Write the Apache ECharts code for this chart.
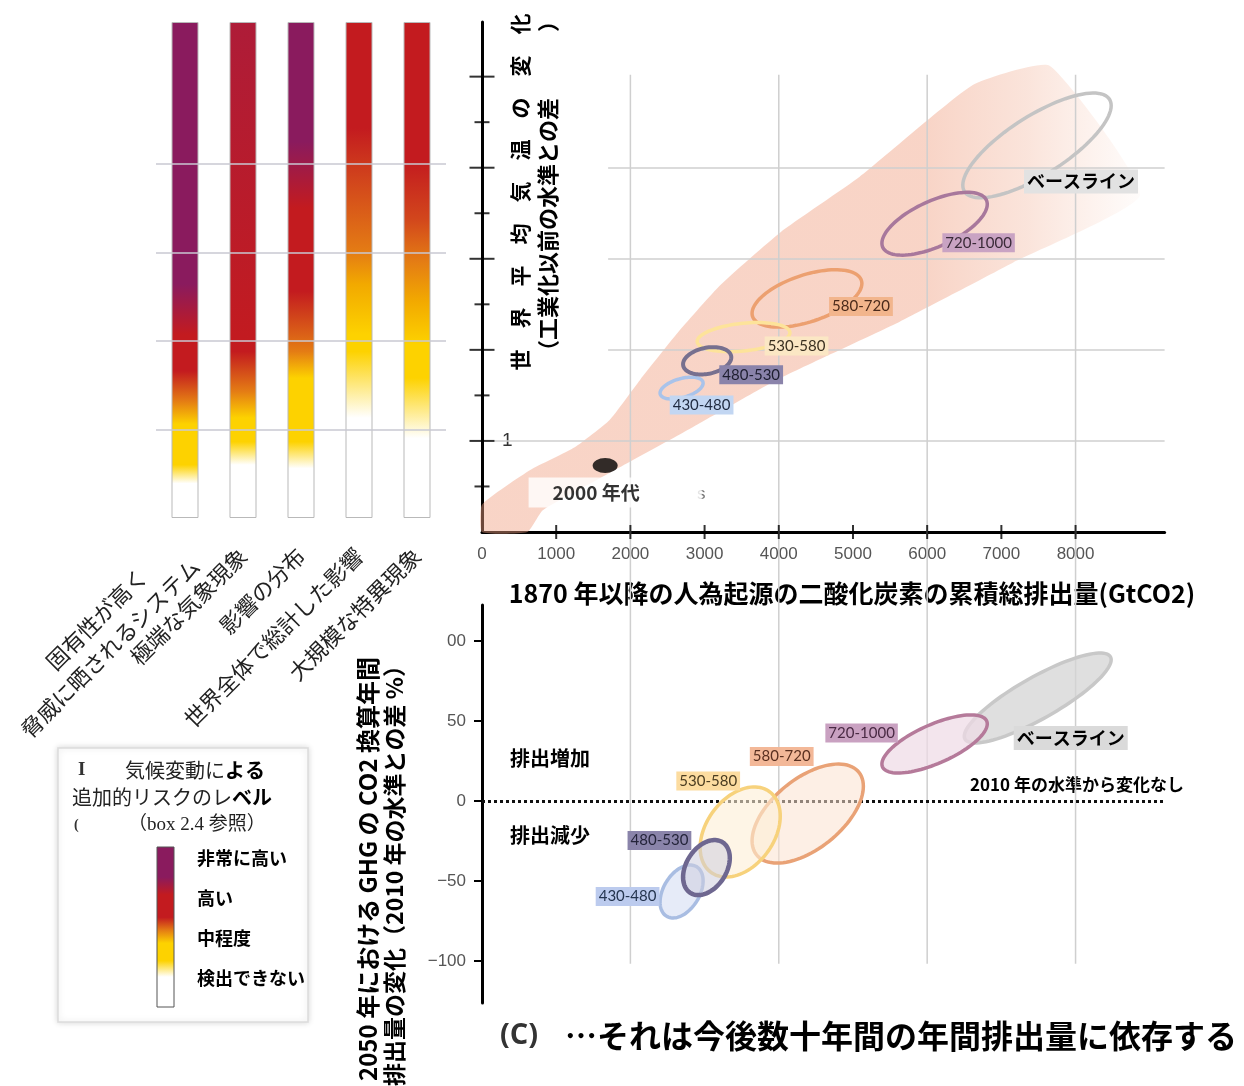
<!DOCTYPE html>
<html><head><meta charset="utf-8">
<script src="https://cdn.jsdelivr.net/npm/echarts@6/dist/echarts.min.js"></script>
<style>html,body{margin:0;padding:0;background:#fff}#c{width:1244px;height:1086px}</style>
</head><body><div id="c"></div>
<script>
// ---------------- DATA ----------------
const scenarios = ['ベースライン', '720-1000', '580-720', '530-580', '480-530', '430-480'];
// (b) cumulative CO2 since 1870 (GtCO2) vs warming (°C): ellipse extents + tilt (correlation)
const warmCumMin = [6480, 5390, 3640, 2900, 2710, 2400];
const warmCumMax = [8480, 6810, 5120, 4150, 3360, 2980];
const warmTMin   = [3.67, 3.04, 2.25, 1.98, 1.73, 1.46];
const warmTMax   = [4.82, 3.73, 2.88, 2.30, 2.03, 1.70];
const warmTilt   = [0.76, 0.62, 0.52, 0.30, 0.25, 0.45];
// (c) cumulative CO2 vs change in annual GHG emissions in 2050 (% vs 2010)
const emisCumMin = [6500, 5390, 3640, 2940, 2710, 2400];
const emisCumMax = [8480, 6810, 5140, 4020, 3340, 2980];
const emisChgMin = [36.3, 17.5, -38.8, -47.5, -58.8, -73.1];
const emisChgMax = [92.5, 53.8, 23.1, 8.8, -24.4, -40.0];
const emisTilt   = [0.85, 0.69, 0.55, 0.35, 0.35, 0.40];
// 2000s observed point
const obs2000s = [1660, 0.73];
// observed + projected warming range band (upper edge, then lower edge back)
const bandUpperCum = [0, 650, 1250, 1720, 2130, 2670, 3210, 4020, 5090, 6620, 7650];
const bandUpperT   = [0.30, 0.68, 0.93, 1.23, 1.67, 2.22, 2.71, 3.29, 3.90, 4.91, 5.12];
const bandLowerCum = [8870, 7160, 5630, 4020, 2840, 1590, 820, 610, 0];
const bandLowerT   = [3.70, 2.96, 2.31, 1.69, 1.15, 0.59, 0.24, 0.0, 0.0];
// tick values
const cumTickLabels = [0, 1000, 2000, 3000, 4000, 5000, 6000, 7000, 8000];
const cumTicks = [1000, 2000, 3000, 4000, 5000, 6000, 7000, 8000];
const tempMajorTicks = [1, 2, 3, 4, 5];
const tempMinorTicks = [0.5, 1.5, 2.5, 3.5, 4.5];
const tempLabelTicks = [1];
const emisTicks = [-100, -50, 0, 50, 100];
const gridCum = [2000, 4000, 6000, 8000];
const gridTemp = [1, 2, 3, 4];
// (a) risk bars: categories, temperature (°C) where each risk level is reached
const riskCats = ['固有性が高く　　\n脅威に晒されるシステム', '極端な気象現象', '影響の分布', '世界全体で総計した影響', '大規模な特異現象'];
const riskBarTop = [5.6, 5.6, 5.6, 5.6, 5.6];
const riskTemps = [
  [0.39, 0.60, 1.06, 1.32, 1.66, 2.07, 2.64],
  [0.60, 0.86, 1.13, 1.43, 1.88, 5.60],
  [0.56, 0.86, 1.58, 1.88, 2.56, 3.50, 4.25],
  [1.13, 1.88, 2.07, 2.64, 3.00, 3.80, 4.40],
  [0.90, 1.58, 1.96, 2.45, 2.90, 3.38, 4.03]
];
const riskLevels = [
  [0, 1, 1, 1.5, 2, 2, 3],
  [0, 1, 1, 1.5, 2, 2.15],
  [0, 1, 1, 1.5, 2, 2, 3],
  [0, 1, 1, 1.25, 1.5, 1.75, 2],
  [0, 1, 1, 1.25, 1.5, 1.75, 2]
];
const riskLegendLabels = ['非常に高い', '高い', '中程度', '検出できない'];

// ---------------- STYLE ----------------
const palette = [[0,'#ffffff'],[1,'#fdd200'],[1.25,'#f2a900'],[1.5,'#e47c14'],[1.75,'#d2461c'],[2,'#c31b1f'],[2.15,'#ae1c38'],[3,'#8a1b5e']];
function hex2rgb(h){return [1,3,5].map(i=>parseInt(h.substr(i,2),16));}
function levelColor(l){
  for(let i=0;i<palette.length-1;i++){
    const [l0,c0]=palette[i],[l1,c1]=palette[i+1];
    if(l<=l1){const f=(l-l0)/(l1-l0);const a=hex2rgb(c0),b=hex2rgb(c1);
      return 'rgb('+a.map((v,k)=>Math.round(v+(b[k]-v)*f)).join(',')+')';}
  }
  return palette[palette.length-1][1];
}
function barGradient(i){
  const T=riskBarTop[i], ts=riskTemps[i], ls=riskLevels[i];
  const stops=[{offset:0,color:levelColor(ls[ls.length-1])}];
  for(let k=ts.length-1;k>=0;k--) stops.push({offset:Math.min(1,Math.max(0,1-ts[k]/T)),color:levelColor(ls[k])});
  stops.push({offset:1,color:levelColor(ls[0])});
  return new echarts.graphic.LinearGradient(0,0,0,1,stops);
}
const topStyles = [
  {stroke:'#c4c4c4', w:3.5, z:1, dx:44, dy:36, bg:'#e2e2e2', fc:'#000', bold:true},
  {stroke:'#a8789c', w:3.5, z:2, dx:44, dy:19, bg:'#c9a3c3', fc:'#3a2a38'},
  {stroke:'#eca070', w:3.5, z:3, dx:54, dy:8, bg:'#f2b58c', fc:'#4a2a1a'},
  {stroke:'#fde39a', w:3.5, z:4, dx:53, dy:9, bg:'#fbe7c4', fc:'#3a3020'},
  {stroke:'#77708f', w:4, z:6, dx:44, dy:14, bg:'#8a83aa', fc:'#1e1e30'},
  {stroke:'#a9c3ea', w:3.5, z:5, dx:20, dy:17, bg:'#c2d6f2', fc:'#1e2a40'}
];
const botStyles = [
  {stroke:'#c8c8c8', fill:'rgba(212,212,212,0.75)', w:3.5, z:1, dx:33, dy:40, bg:'#dadada', fc:'#000', bold:true},
  {stroke:'#b57a9a', fill:'rgba(238,218,230,0.7)', w:3.5, z:2, dx:-73, dy:-11, bg:'#c9a1c1', fc:'#4a2a44'},
  {stroke:'#e9a276', fill:'rgba(252,226,208,0.55)', w:3.5, z:3, dx:-26, dy:-57, bg:'#f3b898', fc:'#5a3020'},
  {stroke:'#f7d27c', fill:'rgba(253,238,214,0.6)', w:3.5, z:4, dx:-32, dy:-51, bg:'#fcdca0', fc:'#4a3c20'},
  {stroke:'#6e6790', fill:'rgba(205,205,222,0.55)', w:4.5, z:6, dx:-47, dy:-27, bg:'#8a84aa', fc:'#24243a'},
  {stroke:'#a9bde2', fill:'rgba(224,230,246,0.8)', w:3.5, z:5, dx:-54, dy:5, bg:'#bccbee', fc:'#24344e'}
];
const warmRows = scenarios.map((s,i)=>[warmCumMin[i],warmCumMax[i],warmTMin[i],warmTMax[i],warmTilt[i]]);
const emisRows = scenarios.map((s,i)=>[emisCumMin[i],emisCumMax[i],emisChgMin[i],emisChgMax[i],emisTilt[i]]);

function ellipseGeom(api){
  const r=[0,1,2,3,4].map(k=>api.value(k));
  const lo=api.coord([r[0],r[2]]), hi=api.coord([r[1],r[3]]);
  const cx=(lo[0]+hi[0])/2, cy=(lo[1]+hi[1])/2, a=(hi[0]-lo[0])/2, b=(lo[1]-hi[1])/2;
  const rho=r[4], s=Math.sqrt(1-rho*rho), pts=[];
  for(let k=0;k<96;k++){const t=k/96*2*Math.PI;pts.push([cx+a*Math.cos(t), cy-b*(rho*Math.cos(t)+s*Math.sin(t))]);}
  return {cx,cy,pts};
}
function ellipseSeries(rows, styles, xi, yi, filled){
  return {type:'custom', coordinateSystem:'cartesian2d', xAxisIndex:xi, yAxisIndex:yi, clip:false, silent:true,
    encode:{x:[0,1], y:[2,3]}, data:rows, z:5,
    renderItem:(p,api)=>{const g=ellipseGeom(api), st=styles[p.dataIndex];
      return {type:'polygon', z2:st.z, shape:{points:g.pts}, style:{fill: filled?st.fill:'none', stroke:st.stroke, lineWidth:st.w}};}};
}
function labelSeries(rows, styles, xi, yi){
  return {type:'custom', coordinateSystem:'cartesian2d', xAxisIndex:xi, yAxisIndex:yi, clip:false, silent:true,
    encode:{x:[0,1], y:[2,3]}, data:rows, z:8,
    renderItem:(p,api)=>{const g=ellipseGeom(api), st=styles[p.dataIndex];
      return {type:'text', x:g.cx+st.dx, y:g.cy+st.dy, z2:20, style:{text:scenarios[p.dataIndex], x:0, y:0, align:'center', verticalAlign:'middle',
        fill:st.fc, backgroundColor:st.bg, padding: st.bold?[3,3]:[2,3],
        fontSize: st.bold?18:15, fontWeight: st.bold?'bold':'normal', fontFamily: st.bold?'"Noto Sans CJK JP"':'Lato'}};}};
}
// tick marks crossing the axis line (centred on it)
function tickSeries(data, size){
  return {type:'scatter', xAxisIndex:0, yAxisIndex:0, clip:false, silent:true, z:10, data:data,
    symbol:'rect', symbolSize:size, itemStyle:{color:'#000'}};
}

const chart = echarts.init(document.getElementById('c'), null, {renderer:'canvas'});
const GRID = {color:'#cfcfcf', width:1.5, type:'solid'};
const tickLbl = {fontSize:17, color:'#555', fontFamily:'"Liberation Sans", sans-serif'};
const hTop = gridTemp.map(t=>[{coord:[t===1?170:1700,t]},{coord:[9200,t]}]);
// vertical grid lines run from the top panel down through the bottom panel
const vGridTopT = 5.02, vGridBottomT = -4.74;

const option = {
  animation:false,
  backgroundColor:'#fff',
  grid:[
    {left:482, top:22, width:682.6, height:510, outerBoundsMode:'none', containLabel:false},
    {left:482, top:605, width:682.6, height:398, outerBoundsMode:'none', containLabel:false},
    {left:156, top:22, width:290, height:496, outerBoundsMode:'none', containLabel:false}
  ],
  xAxis:[
    {gridIndex:0, type:'value', min:0, max:9200, axisLine:{lineStyle:{color:'#000', width:3}},
     axisTick:{show:false},
     axisLabel:Object.assign({customValues:cumTickLabels, margin:14, formatter:v=>String(v)}, tickLbl), splitLine:{show:false}},
    {gridIndex:1, type:'value', min:0, max:9200, show:false},
    {gridIndex:2, type:'category', data:riskCats, axisLine:{show:false}, axisTick:{show:false},
     axisLabel:{interval:0, rotate:45, margin:34, fontSize:22, color:'#222', lineHeight:30, fontFamily:'"Noto Sans CJK JP"'}}
  ],
  yAxis:[
    {gridIndex:0, type:'value', min:0, max:5.6, position:'left', axisLine:{show:true, lineStyle:{color:'#000', width:3}},
     axisTick:{show:false},
     axisLabel:{inside:true, margin:20, customValues:tempLabelTicks, fontSize:19, color:'#333', fontFamily:'"Liberation Sans"'}, splitLine:{show:false}},
    {gridIndex:1, type:'value', min:-126.25, max:122.5, position:'left', axisLine:{show:true, onZero:false, lineStyle:{color:'#000', width:3}},
     axisTick:{show:true, length:8, customValues:emisTicks, lineStyle:{color:'#000', width:2}},
     axisLabel:Object.assign({customValues:emisTicks, margin:16, formatter:v=> v===100?'00':String(v).replace('-','\u2212')}, tickLbl), splitLine:{show:false}},
    {gridIndex:2, type:'value', min:0, max:5.6, show:false}
  ],
  series:[
    // warming band
    {type:'custom', coordinateSystem:'cartesian2d', xAxisIndex:0, yAxisIndex:0, clip:false, silent:true, z:1,
     data:[[0,0]],
     renderItem:(p,api)=>{
       const pts = bandUpperCum.map((x,i)=>api.coord([x,bandUpperT[i]])).concat(bandLowerCum.map((x,i)=>api.coord([x,bandLowerT[i]])));
       const g0=api.coord([6000,0])[0], g1=api.coord([9000,0])[0];
       return {type:'polygon', shape:{points:pts, smooth:0.15}, style:{fill:new echarts.graphic.LinearGradient(g0,0,g1,0,[
         {offset:0,color:'rgba(240,160,130,0.45)'},{offset:0.45,color:'rgba(240,165,135,0.3)'},{offset:1,color:'rgba(245,180,150,0.02)'}],true)}};
     },
     markLine:{silent:true, symbol:['none','none'], label:{show:false}, lineStyle:GRID, data:hTop}},
    // vertical grid lines (both panels)
    {type:'custom', coordinateSystem:'cartesian2d', xAxisIndex:0, yAxisIndex:0, clip:false, silent:true, z:2,
     data:gridCum.map(x=>[x]),
     renderItem:(p,api)=>{const a=api.coord([api.value(0),vGridTopT]), b=api.coord([api.value(0),vGridBottomT]);
       return {type:'line', shape:{x1:a[0],y1:a[1],x2:b[0],y2:b[1]}, style:{stroke:GRID.color, lineWidth:GRID.width}};}},
    // axis ticks of the top panel
    tickSeries(tempMajorTicks.map(t=>[0,t]), [25,2]),
    tickSeries(tempMinorTicks.map(t=>[0,t]), [15,2]),
    tickSeries(cumTicks.map(x=>[x,0]), [2,14]),
    ellipseSeries(warmRows, topStyles, 0, 0, false),
    labelSeries(warmRows, topStyles, 0, 0),
    {type:'scatter', xAxisIndex:0, yAxisIndex:0, data:[obs2000s], symbol:'circle', symbolSize:[25,15], z:9, silent:true,
     itemStyle:{color:'#000'},
     label:{show:true, position:'inside', offset:[10,27], formatter:'2000 年代', color:'#000', fontSize:19, fontWeight:'bold',
       fontFamily:'"Noto Sans CJK JP"', backgroundColor:'#fff', padding:[6,62,5,24]}},
    // bottom panel
    ellipseSeries(emisRows, botStyles, 1, 1, true),
    {type:'line', xAxisIndex:1, yAxisIndex:1, data:[], z:7, silent:true,
     markLine:{silent:true, symbol:['none','none'], label:{show:false}, lineStyle:{color:'#111', width:3, type:[3,3]},
       data:[[{coord:[0,0]},{coord:[9200,0]}]]}},
    labelSeries(emisRows, botStyles, 1, 1),
    // risk bars
    {type:'bar', xAxisIndex:2, yAxisIndex:2, barWidth:27, silent:true,
     data:riskBarTop.map((v,i)=>({value:v, itemStyle:{color:barGradient(i), borderColor:'#b9b9b9', borderWidth:1}})),
     markLine:{silent:true, symbol:['none','none'], label:{show:false}, lineStyle:{color:'#c8c8d2', width:1.5, type:'solid'},
       data:gridTemp.map(t=>({yAxis:t}))}}
  ],
  graphic:[
    // axis titles
    {type:'text', x:520, y:192, rotation:Math.PI/2, style:{text:'世　界　平　均　気　温　の　変　化', x:0, y:0, align:'center', verticalAlign:'middle', font:'bold 21px "Noto Sans CJK JP"', fill:'#000'}},
    {type:'text', x:548, y:186, rotation:Math.PI/2, style:{text:'（工業化以前の水準との差　　　）', x:0, y:0, align:'center', verticalAlign:'middle', font:'bold 22px "Noto Sans CJK JP"', fill:'#000'}},
    {type:'text', x:852, y:593, style:{text:'1870 年以降の人為起源の二酸化炭素の累積総排出量(GtCO2)', x:0, y:0, align:'center', verticalAlign:'middle', font:'bold 25px "Noto Sans CJK JP"', fill:'#000'}},
    {type:'text', x:368, y:869, rotation:Math.PI/2, style:{text:'2050 年における GHG の CO2 換算年間', x:0, y:0, align:'center', verticalAlign:'middle', font:'bold 24px "Noto Sans CJK JP"', fill:'#000'}},
    {type:'text', x:394, y:870, rotation:Math.PI/2, style:{text:'排出量の変化（2010 年の水準との差 %）', x:0, y:0, align:'center', verticalAlign:'middle', font:'bold 23px "Noto Sans CJK JP"', fill:'#000'}},
    // annotations
    {type:'text', x:697, y:494, style:{text:'s', x:0, y:0, align:'left', verticalAlign:'middle', font:'17px "Liberation Sans"', fill:'#777'}},
    {type:'text', x:510, y:758, style:{text:'排出増加', x:0, y:0, align:'left', verticalAlign:'middle', font:'bold 20px "Noto Sans CJK JP"', fill:'#000'}},
    {type:'text', x:510, y:835, style:{text:'排出減少', x:0, y:0, align:'left', verticalAlign:'middle', font:'bold 20px "Noto Sans CJK JP"', fill:'#000'}},
    {type:'text', x:1077, y:785, style:{text:'2010 年の水準から変化なし', x:0, y:0, align:'center', verticalAlign:'middle', font:'bold 17px "Noto Sans CJK JP"', fill:'#000'}},
    {type:'text', x:500, y:1036, style:{text:'(C)', x:0, y:0, align:'left', verticalAlign:'middle', font:'bold 29px "Open Sans"', fill:'#333'}},
    {type:'text', x:565, y:1036, style:{text:'…それは今後数十年間の年間排出量に依存する', x:0, y:0, align:'left', verticalAlign:'middle', font:'bold 32px "Noto Sans CJK JP"', fill:'#000'}},
    // legend box
    {type:'group', children:[
      {type:'rect', shape:{x:58, y:748, width:250, height:274}, style:{fill:'#fff', stroke:'#dcdcdc', lineWidth:1.5, shadowBlur:6, shadowColor:'rgba(0,0,0,0.15)'}},
      {type:'text', x:78, y:770, style:{text:'I', x:0, y:0, align:'left', verticalAlign:'middle', font:'bold 19px "Liberation Serif"', fill:'#333'}},
      {type:'text', x:125, y:770, style:{text:'気候変動に{b|よる}', x:0, y:0, align:'left', verticalAlign:'middle', font:'20px "Noto Sans CJK JP"', fill:'#222', rich:{b:{fontWeight:'bold', fontSize:20, fontFamily:'"Noto Sans CJK JP"', fill:'#000'}}}},
      {type:'text', x:72, y:797, style:{text:'追加的リスクのレ{b|ベル}', x:0, y:0, align:'left', verticalAlign:'middle', font:'20px "Noto Sans CJK JP"', fill:'#222', rich:{b:{fontWeight:'bold', fontSize:20, fontFamily:'"Noto Sans CJK JP"', fill:'#000'}}}},
      {type:'text', x:74, y:825, style:{text:'(', x:0, y:0, align:'left', verticalAlign:'middle', font:'bold 14px "Liberation Serif"', fill:'#333'}},
      {type:'text', x:128, y:825, style:{text:'（box 2.4 参照）', x:0, y:0, align:'left', verticalAlign:'middle', font:'19px "Liberation Serif", "Noto Sans CJK JP"', fill:'#222'}},
      {type:'rect', shape:{x:157, y:847, width:17, height:160}, style:{stroke:'#555', lineWidth:1, fill:new echarts.graphic.LinearGradient(0,0,0,1,[
        {offset:0,color:levelColor(3)},{offset:0.19,color:levelColor(3)},{offset:0.3,color:levelColor(2)},{offset:0.44,color:levelColor(2)},
        {offset:0.52,color:levelColor(1.5)},{offset:0.6,color:levelColor(1)},{offset:0.71,color:levelColor(1)},{offset:0.81,color:'#fff'},{offset:1,color:'#fff'}])}}
    ].concat(riskLegendLabels.map((t,i)=>({type:'text', x:197, y:858+40*i, style:{text:t, x:0, y:0, align:'left', verticalAlign:'middle', font:'bold 18px "Noto Sans CJK JP"', fill:'#000'}})))}
  ]
};
chart.setOption(option);
</script></body></html>
